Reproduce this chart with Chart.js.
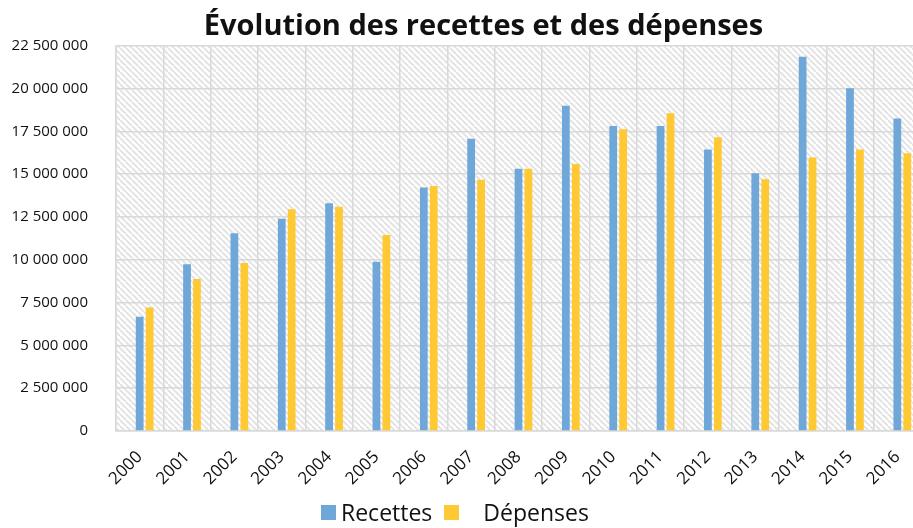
<!DOCTYPE html>
<html lang="fr">
<head>
<meta charset="utf-8">
<script src="https://cdn.jsdelivr.net/npm/chart.js@4.4.1/dist/chart.umd.min.js"></script>
<style>
    html, body { margin: 0; padding: 0; background: #fff; overflow: hidden; }
    #wrap { position: relative; width: 913px; height: 528px; overflow: hidden; }
    #budgetChart { display: block; }
    #legend {
        position: absolute; left: 321px; top: 496px;
        display: flex; align-items: center;
        font-family: "Open Sans", sans-serif; font-size: 23px; color: #111;
    }
    .legend-color-box { width: 15px; height: 15px; }
</style>
</head>
<body>
<div id="wrap">
    <!-- le graphique dépasse un peu à droite, comme l'original -->
    <canvas id="budgetChart" width="921" height="528"></canvas>
    <div id="legend">
        <div class="legend-color-box" style="background-color:#6FA7D8"></div>
        <span style="margin-left:5px">Recettes</span>
        <div class="legend-color-box" style="background-color:#FFC933; margin-left:12px"></div>
        <span style="margin-left:24px">Dépenses</span>
    </div>
</div>
<script>
const years = ['2000', '2001', '2002', '2003', '2004', '2005', '2006', '2007', '2008',
    '2009', '2010', '2011', '2012', '2013', '2014', '2015', '2016'];
const recettes = [6680000, 9740000, 11550000, 12400000, 13300000, 9890000, 14230000, 17070000, 15320000,
    19000000, 17820000, 17820000, 16450000, 15050000, 21860000, 20020000, 18260000];
const depenses = [7220000, 8880000, 9810000, 12950000, 13100000, 11450000, 14310000, 14680000, 15320000,
    15600000, 17620000, 18560000, 17160000, 14700000, 15970000, 16450000, 16220000];
const yTicks = [0, 2500000, 5000000, 7500000, 10000000, 12500000, 15000000, 17500000, 20000000, 22500000];

// motif hachuré du fond
function makeHatch() {
    const s = 6;
    const c = document.createElement('canvas');
    c.width = s; c.height = s;
    const g = c.getContext('2d');
    g.strokeStyle = '#E3E3E3';
    g.lineWidth = 2;
    [-s, 0, s].forEach(k => {
        g.beginPath();
        g.moveTo(k, 0);
        g.lineTo(k + s, s);
        g.stroke();
    });
    return c;
}

const hatchBackground = {
    id: 'hatchBackground',
    afterLayout(chart) {
        // le titre est centré un peu à droite, comme dans l'original
        chart.titleBlock.left = 46;
    },
    beforeDraw(chart) {
        const {ctx, chartArea: a} = chart;
        ctx.save();
        ctx.fillStyle = ctx.createPattern(makeHatch(), 'repeat');
        ctx.fillRect(a.left, a.top, a.right - a.left, a.bottom - a.top);
        ctx.restore();
    }
};

function fmt(v) {
    return String(v).replace(/\B(?=(\d{3})+(?!\d))/g, ' ');
}

const ctx = document.getElementById('budgetChart');
new Chart(ctx, {
    type: 'bar',
    data: {
        labels: years,
        datasets: [
            {label: '', data: [], backgroundColor: 'transparent'},
            {label: 'Recettes', data: recettes, backgroundColor: '#6FA7D8'},
            {label: 'Dépenses', data: depenses, backgroundColor: '#FFC933'}
        ]
    },
    options: {
        responsive: false,
        animation: false,
        layout: {autoPadding: false, padding: {left: 0, right: 0, top: 0, bottom: 0}},
        datasets: {bar: {categoryPercentage: 0.63, barPercentage: 0.78}},
        plugins: {
            legend: {display: false},
            tooltip: {enabled: false},
            title: {
                display: true,
                text: 'Évolution des recettes et des dépenses',
                color: '#111',
                font: {family: 'Open Sans', size: 29, weight: 'bold', lineHeight: 1.2},
                padding: {top: 9, bottom: 2}
            }
        },
        scales: {
            x: {
                grid: {color: '#D9D9D9', lineWidth: 1.5, drawTicks: false, offset: true},
                border: {color: '#D9D9D9', width: 1.5},
                ticks: {
                    color: '#111', padding: 16, maxRotation: 45, minRotation: 45, autoSkip: false,
                    font: {family: 'Open Sans', size: 17}
                },
                afterFit(scale) {
                    scale.height = 97;
                    scale.paddingLeft = 0;
                    scale.paddingRight = 0;
                }
            },
            y: {
                min: 0, max: 22500000,
                afterBuildTicks(scale) { scale.ticks = yTicks.map(v => ({value: v})); },
                grid: {color: '#D9D9D9', lineWidth: 1.5, drawTicks: false},
                border: {color: '#D9D9D9', width: 1.5},
                ticks: {
                    color: '#111', padding: 28,
                    font: {family: 'Open Sans', size: 15},
                    callback: v => fmt(v)
                },
                afterFit(scale) { scale.width = 116; }
            }
        }
    },
    plugins: [hatchBackground]
});
</script>
</body>
</html>
